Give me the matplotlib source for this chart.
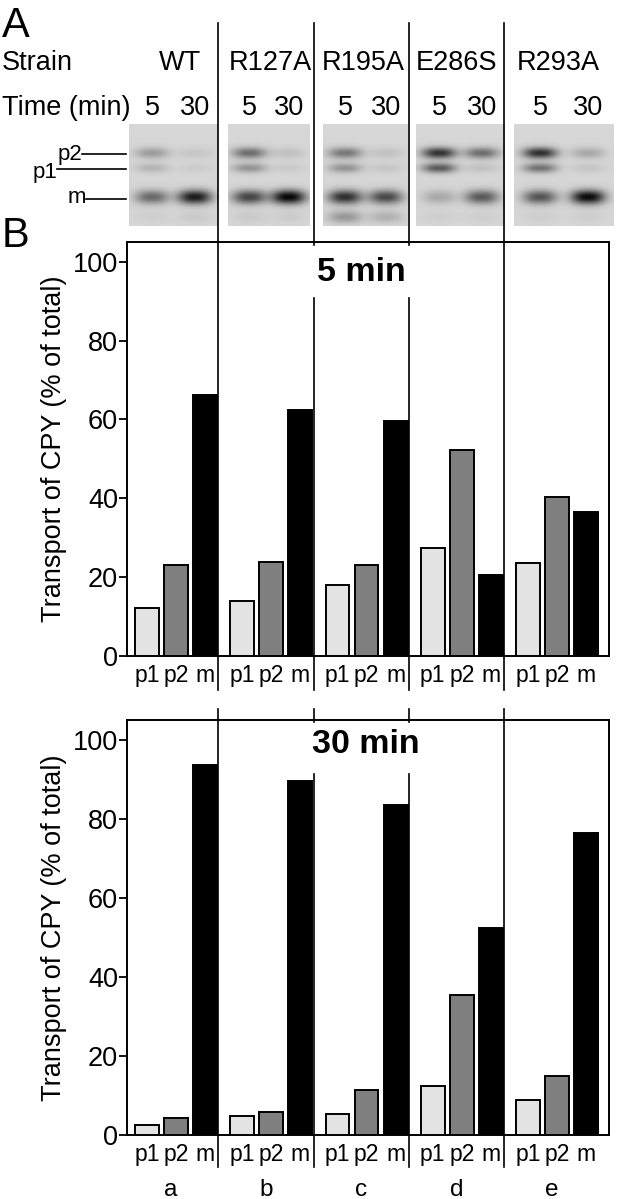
import numpy as np
import matplotlib
matplotlib.use('Agg')
import matplotlib.pyplot as plt
from matplotlib.transforms import blended_transform_factory

plt.rcParams['font.family'] = ['Liberation Sans', 'DejaVu Sans']

strains = ['WT', 'R127A', 'R195A', 'E286S', 'R293A']
group_letters = ['a', 'b', 'c', 'd', 'e']
forms = ['p1', 'p2', 'm']
form_colors = ['#e3e3e3', '#7f7f7f', '#000000']
times = ['5', '30']

# transport of CPY (% of total) for each strain
pct_5min_p1 = [12.1, 14.0, 18.0, 27.3, 23.5]
pct_5min_p2 = [23.1, 23.9, 23.1, 52.3, 40.4]
pct_5min_m = [66.1, 62.4, 59.5, 20.6, 36.4]
pct_30min_p1 = [2.5, 4.8, 5.4, 12.5, 8.9]
pct_30min_p2 = [4.4, 5.9, 11.4, 35.5, 14.9]
pct_30min_m = [93.5, 89.6, 83.5, 52.5, 76.5]

# gel band darkness (0-1), lanes: WT 5, WT 30, R127A 5, R127A 30, ...
band_p2 = [0.28, 0.08, 0.50, 0.10, 0.45, 0.10, 0.78, 0.50, 0.80, 0.22]
band_p1 = [0.16, 0.05, 0.32, 0.06, 0.32, 0.08, 0.60, 0.10, 0.48, 0.08]
band_m = [0.52, 0.90, 0.70, 1.00, 0.80, 0.68, 0.22, 0.60, 0.62, 0.98]
band_low = [0.04, 0.06, 0.06, 0.05, 0.30, 0.18, 0.04, 0.04, 0.04, 0.04]

# layout (figure pixels, y from top)
W, H = 620, 1199
gel_x = [(129, 218), (228, 310), (323, 408), (416, 505), (514, 614)]
gel_y = (124, 226)
band_rows = [(153, 4.0), (168, 3.5), (197, 5.0), (217, 4.5)]
label_x = [180, 270, 363, 457, 558]
lane_frac = [0.26, 0.74]
bar_offsets = [0.25, 0.555, 0.86]
bar_width = 0.25

fig = plt.figure(figsize=(W / 100, H / 100), dpi=100)


def make_axes(top_px, bottom_px):
    ax = fig.add_axes([127 / W, 1 - bottom_px / H, 482 / W, (bottom_px - top_px) / H])
    ax.set_xlim(0.04, 5.1)
    ax.set_ylim(0, 105)
    for s in ax.spines.values():
        s.set_linewidth(1.4)
    ax.set_yticks(range(0, 101, 20))
    ax.tick_params(axis='y', length=6, width=1.3, pad=0.5, labelsize=19.5)
    ax.set_ylabel('Transport of CPY (% of total)', fontsize=19.5)
    ax.yaxis.set_label_coords(-0.125, 0.5)
    return ax


def draw_bars(ax, p1, p2, m):
    groups = np.arange(len(strains))
    for k, vals in enumerate([p1, p2, m]):
        ax.bar(groups + bar_offsets[k], vals, width=bar_width, color=form_colors[k],
               edgecolor='black', linewidth=1.4, zorder=3)
    centers = [g + o for g in groups for o in bar_offsets]
    ax.set_xticks(centers)
    ax.set_xticklabels(forms * len(strains))
    ax.tick_params(axis='x', length=0, pad=6, labelsize=16.5)


ax1 = make_axes(242, 656)
draw_bars(ax1, pct_5min_p1, pct_5min_p2, pct_5min_m)
ax1.text(2.5, 97.3, '5 min', ha='center', va='center', fontsize=24.5, fontweight='bold')

ax2 = make_axes(720, 1135)
draw_bars(ax2, pct_30min_p1, pct_30min_p2, pct_30min_m)
ax2.text(2.55, 98.7, '30 min', ha='center', va='center', fontsize=24.5, fontweight='bold')
tr = blended_transform_factory(ax2.transData, ax2.transAxes)
for i, letter in enumerate(group_letters):
    ax2.text(i + 0.5, -0.132, letter, transform=tr, ha='center', va='center', fontsize=17.5)

# overlay in pixel coordinates for panel A and separator lines
ov = fig.add_axes([0, 0, 1, 1], zorder=5)
ov.set_xlim(0, W)
ov.set_ylim(H, 0)
ov.axis('off')
ov.patch.set_alpha(0)

ov.text(2, 37, 'A', fontsize=30, va='baseline')
ov.text(2, 247, 'B', fontsize=30, va='baseline')
ov.text(2, 70, 'Strain', fontsize=19.5, va='baseline')
ov.text(2, 115, 'Time (min)', fontsize=19.5, va='baseline')

gy = np.arange(gel_y[0], gel_y[1]) + 0.5
for i, (x0, x1) in enumerate(gel_x):
    ov.text(label_x[i], 70, strains[i], fontsize=19.5, va='baseline', ha='center')
    gx = np.arange(x0, x1) + 0.5
    dark = np.zeros((len(gy), len(gx)))
    for j in range(2):
        lane = 2 * i + j
        xc = x0 + lane_frac[j] * (x1 - x0)
        ov.text(xc, 115, times[j], fontsize=19.5, va='baseline', ha='center')
        prof_x = np.exp(-np.abs((gx - xc) / 17.0) ** 2.5)
        for (yb, sig), amp in zip(band_rows, [band_p2[lane], band_p1[lane],
                                              band_m[lane], band_low[lane]]):
            dark += amp * np.outer(np.exp(-0.5 * ((gy - yb) / sig) ** 2), prof_x)
    img = 0.82 * (1 - np.clip(dark, 0, 1)) + 0.02
    ov.imshow(img, cmap='gray', vmin=0, vmax=1, extent=(x0, x1, gel_y[1], gel_y[0]),
              aspect='auto', interpolation='bilinear', zorder=1)

# band markers
ov.text(82, 160, 'p2', fontsize=16, ha='right', va='baseline')
ov.plot([82, 126], [154, 154], color='black', lw=1.2)
ov.text(57, 178, 'p1', fontsize=16, ha='right', va='baseline')
ov.plot([57, 126], [169, 169], color='black', lw=1.2)
ov.text(86, 203, 'm', fontsize=16, ha='right', va='baseline')
ov.plot([86, 126], [199, 199], color='black', lw=1.2)

# strain separator lines
open_segs = [(23, 690), (709, 1167)]
cut_segs = [(23, 245), (298, 690), (709, 722), (774, 1167)]
for i in range(1, len(strains)):
    xpx = ax1.transData.transform((i, 0))[0]
    segs = cut_segs if i in (2, 3) else open_segs
    for y0, y1 in segs:
        ov.plot([xpx, xpx], [y0, y1], color='black', lw=1.2, zorder=3)

fig.savefig('out.png', dpi=100)
